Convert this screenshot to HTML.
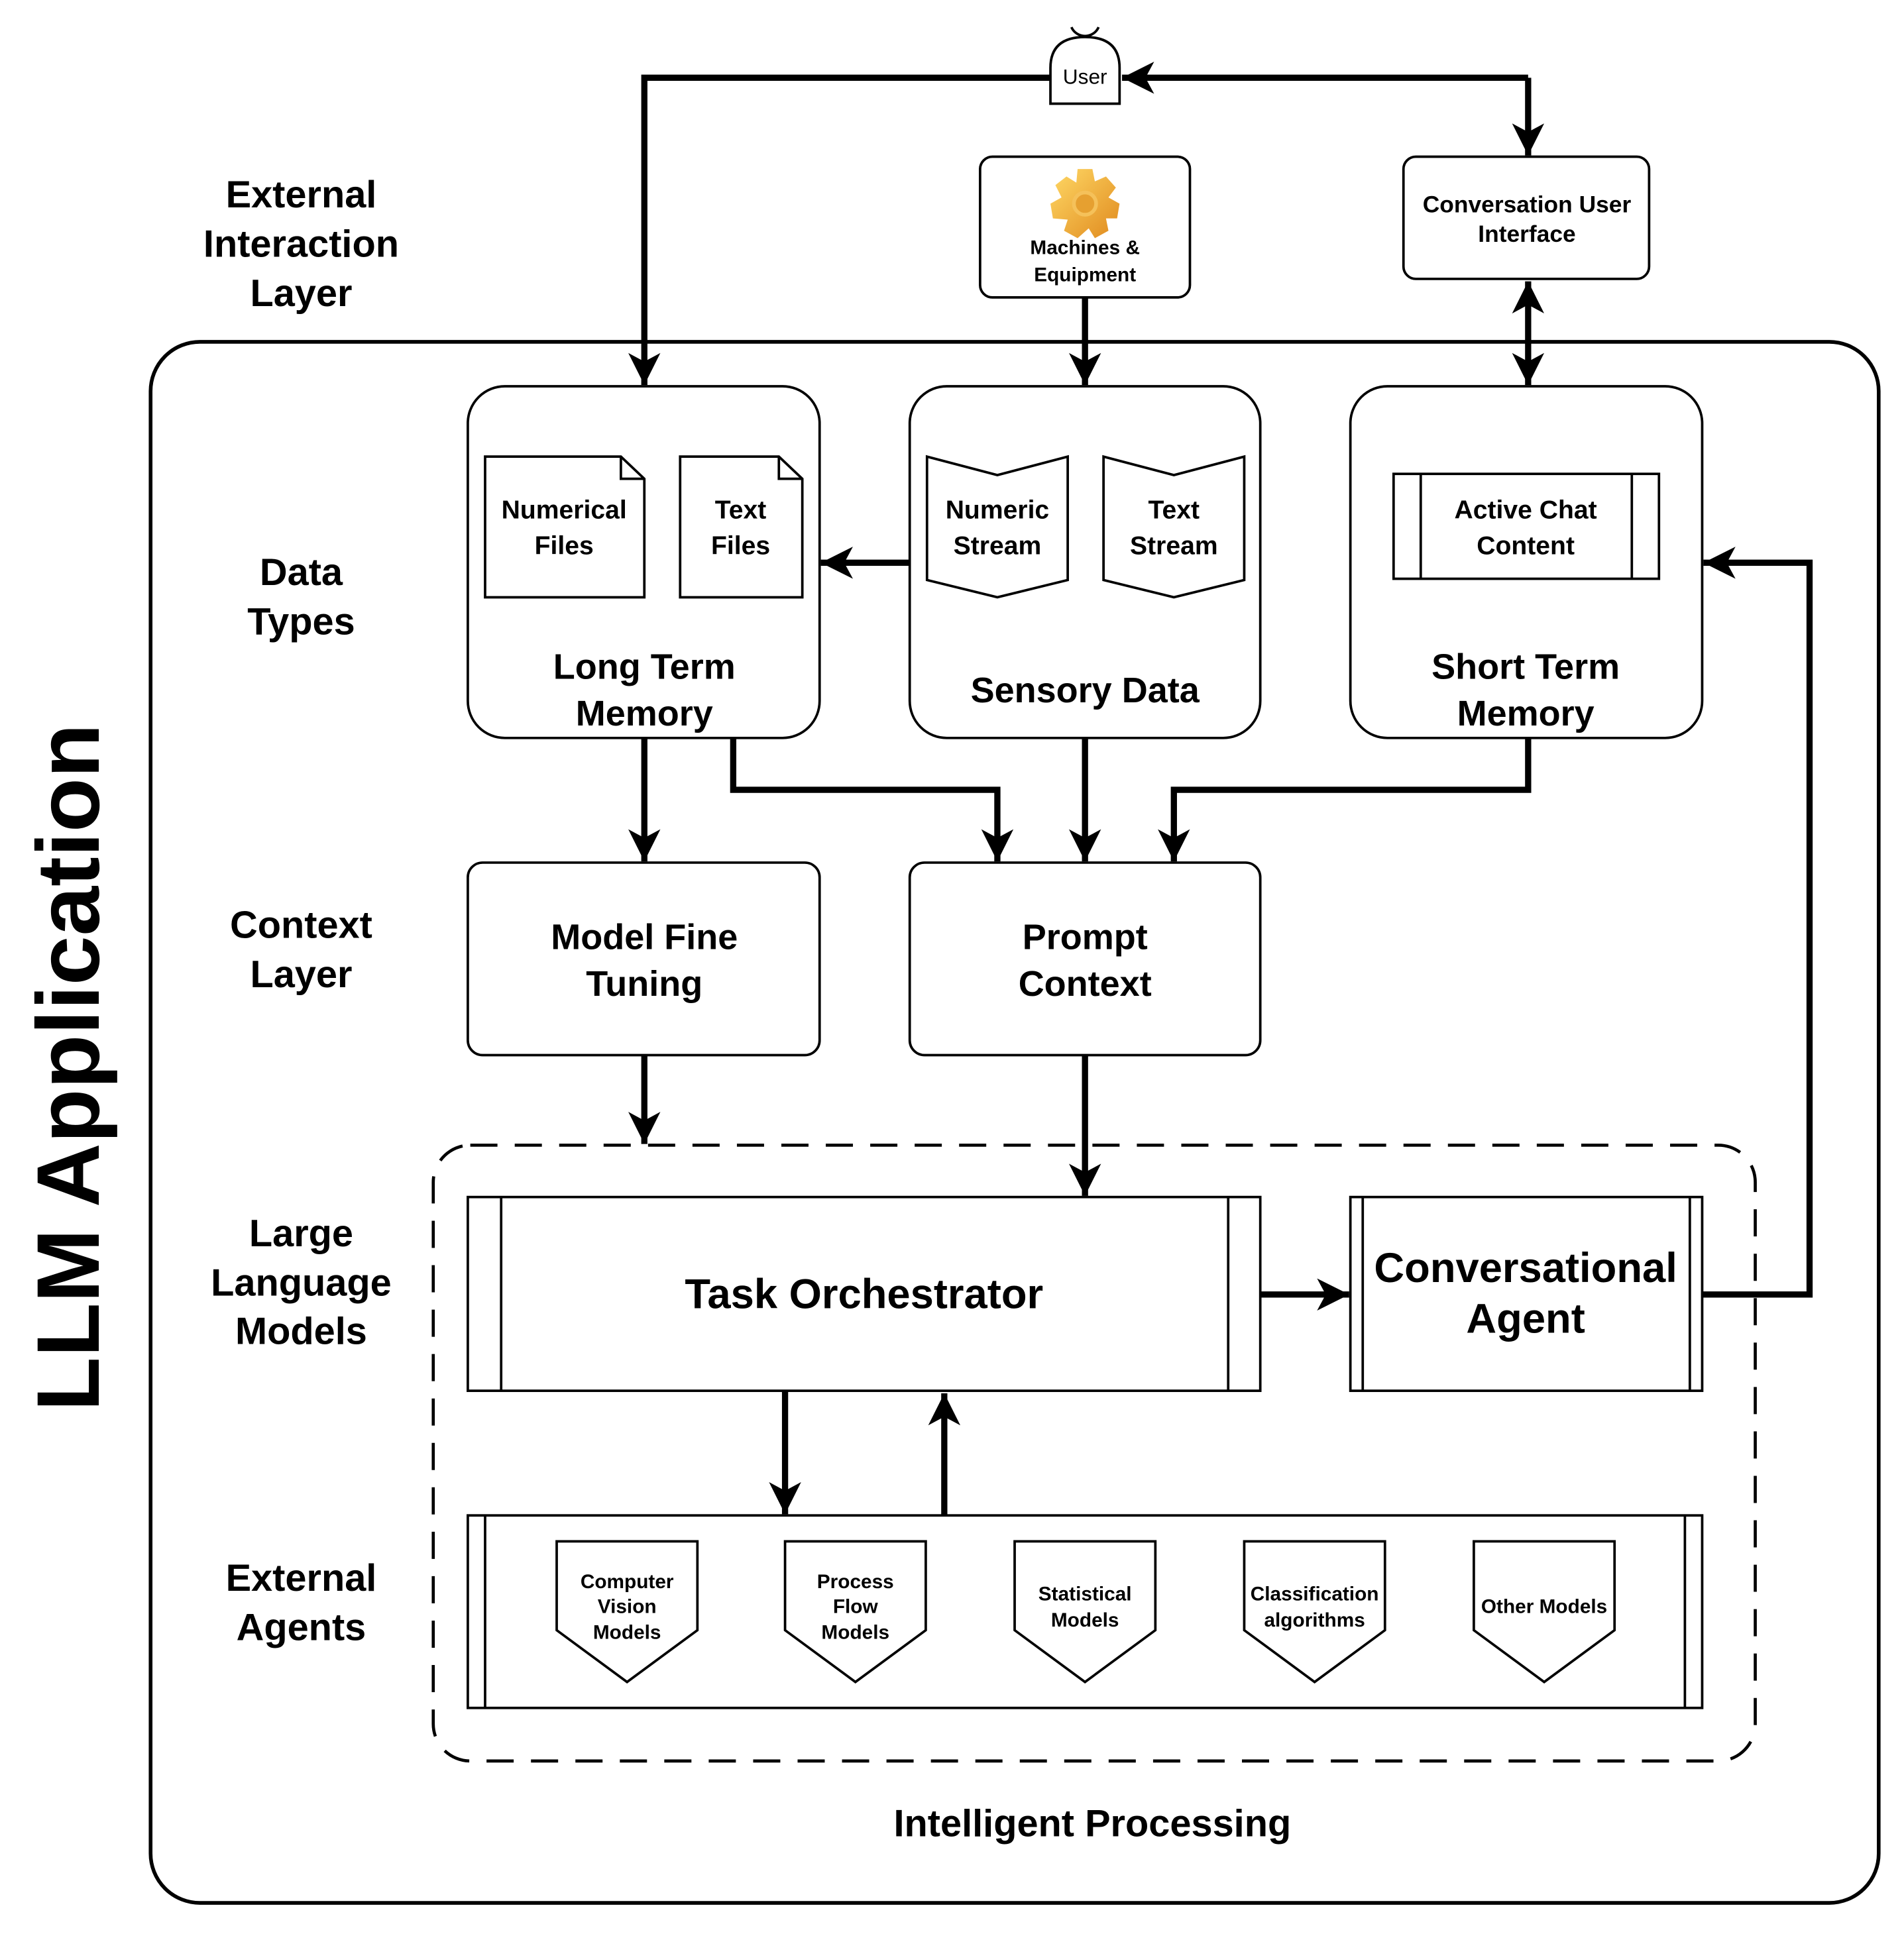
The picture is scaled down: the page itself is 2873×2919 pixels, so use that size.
<!DOCTYPE html>
<html><head><meta charset="utf-8"><style>
html,body{margin:0;padding:0;background:#fff}
svg{display:block}
text{font-family:"Liberation Sans",Arial,sans-serif;font-weight:bold;fill:#000;text-anchor:middle}
</style></head><body>
<svg width="2873" height="2919" viewBox="0 0 1542.5 1567.2" preserveAspectRatio="none" xmlns="http://www.w3.org/2000/svg">
<defs>
<marker id="a" markerUnits="userSpaceOnUse" markerWidth="30" markerHeight="30" refX="26" refY="13" orient="auto">
<path d="M0,0 L26,13 L0,26 L7,13 Z" fill="#000"/>
</marker>
<marker id="s" markerUnits="userSpaceOnUse" markerWidth="30" markerHeight="30" refX="0" refY="13" orient="auto">
<path d="M26,0 L0,13 L26,26 L19,13 Z" fill="#000"/>
</marker>
<linearGradient id="g" x1="0" y1="0" x2="1" y2="1"><stop offset="0" stop-color="#ffd966"/><stop offset="1" stop-color="#e08a1e"/></linearGradient>
</defs>
<g fill="none" stroke="#000">
<rect x="122" y="277" width="1400" height="1265" rx="40" stroke-width="3"/>
<rect x="351" y="928" width="1071" height="499" rx="30" stroke-width="2.5" stroke-dasharray="22 14"/>
</g>
<text x="0" y="0" font-size="72" transform="translate(80,865) rotate(-90)">LLM Application</text>
<g font-size="31">
<text x="244" y="168">External</text><text x="244" y="208">Interaction</text><text x="244" y="248">Layer</text>
<text x="244" y="474">Data</text><text x="244" y="514">Types</text>
<text x="244" y="760">Context</text><text x="244" y="800">Layer</text>
<text x="244" y="1010">Large</text><text x="244" y="1050">Language</text><text x="244" y="1089">Models</text>
<text x="244" y="1289">External</text><text x="244" y="1329">Agents</text>
<text x="885" y="1488">Intelligent Processing</text>
</g>
<g fill="#fff" stroke="#000" stroke-width="2">
<path d="M868,22 A12,12 0 0 0 890,22" fill="none"/>
<path d="M851,84 L851,55 Q851,30 879,30 Q907,30 907,55 L907,84 Z"/>
</g>
<text x="879" y="68" font-size="17" style="font-weight:normal" fill="#333">User</text>
<g fill="#fff" stroke="#000" stroke-width="2">
<rect x="794" y="127" width="170" height="114" rx="10"/>
<rect x="1137" y="127" width="199" height="99" rx="10"/>
</g>
<g transform="translate(879,165)">
<path d="M-6,-28 L6,-28 L8,-18 L17,-22 L25,-13 L19,-5 L28,0 L26,12 L17,12 L19,22 L8,28 L3,20 L-6,28 L-17,22 L-14,13 L-26,12 L-28,0 L-19,-5 L-24,-15 L-15,-22 L-7,-17 Z" fill="url(#g)"/>
<circle cx="0" cy="0" r="9" fill="#e6a030" stroke="#f5c15a" stroke-width="3"/>
</g>
<g font-size="16"><text x="879" y="206">Machines &amp;</text><text x="879" y="228">Equipment</text></g>
<g font-size="19"><text x="1237" y="172">Conversation User</text><text x="1237" y="196">Interface</text></g>
<g fill="#fff" stroke="#000" stroke-width="2">
<rect x="379" y="313" width="285" height="285" rx="30"/>
<rect x="737" y="313" width="284" height="285" rx="30"/>
<rect x="1094" y="313" width="285" height="285" rx="30"/>
<path d="M393,370 L503,370 L522,388 L522,484 L393,484 Z M503,370 L503,388 L522,388"/>
<path d="M551,370 L631,370 L650,388 L650,484 L551,484 Z M631,370 L631,388 L650,388"/>
<path d="M751,370 L808,385 L865,370 L865,470 L808,484 L751,470 Z"/>
<path d="M894,370 L951,385 L1008,370 L1008,470 L951,484 L894,470 Z"/>
<rect x="1129" y="384" width="215" height="85"/>
<path d="M1151,384 V469 M1322,384 V469"/>
<rect x="379" y="699" width="285" height="156" rx="12"/>
<rect x="737" y="699" width="284" height="156" rx="12"/>
<rect x="379" y="970" width="642" height="157"/>
<path d="M406,970 V1127 M995,970 V1127"/>
<rect x="1094" y="970" width="285" height="157"/>
<path d="M1104,970 V1127 M1369,970 V1127"/>
<rect x="379" y="1228" width="1000" height="156"/>
<path d="M393,1228 V1384 M1365,1228 V1384"/>
<path d="M451,1249 H565 V1321 L508,1363 L451,1321 Z"/>
<path d="M636,1249 H750 V1321 L693,1363 L636,1321 Z"/>
<path d="M822,1249 H936 V1321 L879,1363 L822,1321 Z"/>
<path d="M1008,1249 H1122 V1321 L1065,1363 L1008,1321 Z"/>
<path d="M1194,1249 H1308 V1321 L1251,1363 L1194,1321 Z"/>
</g>
<g font-size="21">
<text x="457" y="420">Numerical</text><text x="457" y="449">Files</text>
<text x="600" y="420">Text</text><text x="600" y="449">Files</text>
<text x="808" y="420">Numeric</text><text x="808" y="449">Stream</text>
<text x="951" y="420">Text</text><text x="951" y="449">Stream</text>
<text x="1236" y="420">Active Chat</text><text x="1236" y="449">Content</text>
</g>
<g font-size="29">
<text x="522" y="550">Long Term</text><text x="522" y="588">Memory</text>
<text x="879" y="569">Sensory Data</text>
<text x="1236" y="550">Short Term</text><text x="1236" y="588">Memory</text>
<text x="522" y="769">Model Fine</text><text x="522" y="807">Tuning</text>
<text x="879" y="769">Prompt</text><text x="879" y="807">Context</text>
</g>
<g font-size="34">
<text x="700" y="1060">Task Orchestrator</text>
<text x="1236" y="1039">Conversational</text><text x="1236" y="1080">Agent</text>
</g>
<g font-size="16">
<text x="508" y="1287">Computer</text><text x="508" y="1307">Vision</text><text x="508" y="1328">Models</text>
<text x="693" y="1287">Process</text><text x="693" y="1307">Flow</text><text x="693" y="1328">Models</text>
<text x="879" y="1297">Statistical</text><text x="879" y="1318">Models</text>
<text x="1065" y="1297">Classification</text><text x="1065" y="1318">algorithms</text>
<text x="1251" y="1307">Other Models</text>
</g>
<g fill="none" stroke="#000" stroke-width="5">
<path d="M851,63 H522 V312" marker-end="url(#a)"/>
<path d="M1238,63 H909" marker-end="url(#a)"/>
<path d="M1238,63 V126" marker-end="url(#a)"/>
<path d="M879,241 V312" marker-end="url(#a)"/>
<path d="M1238,228 V312" marker-end="url(#a)" marker-start="url(#s)"/>
<path d="M737,456 H665" marker-end="url(#a)"/>
<path d="M1379,1049 H1466 V456 H1380" marker-end="url(#a)"/>
<path d="M522,598 V698" marker-end="url(#a)"/>
<path d="M594,598 V640 H808 V698" marker-end="url(#a)"/>
<path d="M879,598 V698" marker-end="url(#a)"/>
<path d="M1238,598 V640 H951 V698" marker-end="url(#a)"/>
<path d="M522,855 V927" marker-end="url(#a)"/>
<path d="M879,855 V969" marker-end="url(#a)"/>
<path d="M1021,1049 H1093" marker-end="url(#a)"/>
<path d="M636,1127 V1227" marker-end="url(#a)"/>
<path d="M765,1228 V1129" marker-end="url(#a)"/>
</g>
</svg>
</body></html>
